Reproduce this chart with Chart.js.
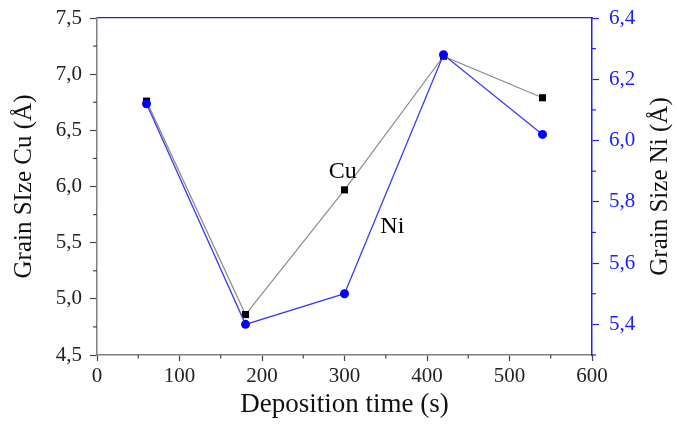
<!DOCTYPE html>
<html>
<head>
<meta charset="utf-8">
<script src="https://cdn.jsdelivr.net/npm/chart.js@4.4.1/dist/chart.umd.min.js"></script>
<style>
  html, body { margin: 0; padding: 0; background: #fff; }
  #wrap { width: 677px; height: 430px; }
</style>
</head>
<body>
<div id="wrap"><canvas id="grainChart"></canvas></div>
<script>
// deposition time (s)
const times = [60, 180, 300, 420, 540];
// grain size Cu (Å) - left axis
const grainCu = [6.76, 4.86, 5.97, 7.16, 6.79];
// grain size Ni (Å) - right axis
const grainNi = [6.12, 5.40, 5.50, 6.28, 6.02];

// tick labels
const xTicks = [0, 100, 200, 300, 400, 500, 600];
const cuTicks = [4.5, 5.0, 5.5, 6.0, 6.5, 7.0, 7.5];
const niTicks = [5.4, 5.6, 5.8, 6.0, 6.2, 6.4];

const serif = '"Liberation Serif", "Times New Roman", serif';
const grey = '#808080';
const blue = '#2020ff';

const comma = v => v.toFixed(1).replace('.', ',');

// fixed axis box size, and no extra room for half labels at the ends
const fixWidth = w => s => { s.width = w; s.paddingTop = 0; s.paddingBottom = 0; };

// small unlabelled ticks between the big ones
const minorTicks = {
  id: 'minorTicks',
  afterDraw(chart) {
    const ctx = chart.ctx;
    const {x, y, y1} = chart.scales;
    ctx.save();
    ctx.lineWidth = 1.2;

    ctx.strokeStyle = '#444';
    for (let v = 50; v < 600; v += 100) {
      const px = x.getPixelForValue(v);
      ctx.beginPath();
      ctx.moveTo(px, x.top);
      ctx.lineTo(px, x.top + 3.5);
      ctx.stroke();
    }
    for (let v = 4.75; v < 7.5; v += 0.5) {
      const py = y.getPixelForValue(v);
      ctx.beginPath();
      ctx.moveTo(y.right, py);
      ctx.lineTo(y.right - 4, py);
      ctx.stroke();
    }
    ctx.strokeStyle = blue;
    for (let v = 5.3; v < 6.4; v += 0.2) {
      const py = y1.getPixelForValue(v);
      ctx.beginPath();
      ctx.moveTo(y1.left, py);
      ctx.lineTo(y1.left + 4, py);
      ctx.stroke();
    }
    ctx.restore();
  }
};

// "Cu" / "Ni" labels next to the curves, and the right axis title
// (which reads bottom-to-top like the left one)
const extraText = {
  id: 'extraText',
  afterDatasetsDraw(chart) {
    const ctx = chart.ctx;
    const {x, y, y1} = chart.scales;
    ctx.save();
    ctx.font = '24px ' + serif;
    ctx.fillStyle = '#000';
    ctx.textAlign = 'center';
    ctx.textBaseline = 'middle';
    ctx.fillText('Cu', x.getPixelForValue(298), y.getPixelForValue(6.13));
    ctx.fillText('Ni', x.getPixelForValue(358), y1.getPixelForValue(5.72));

    ctx.font = '25px ' + serif;
    ctx.fillStyle = '#111';
    ctx.translate(y1.right - 17, (y1.top + y1.bottom) / 2);
    ctx.rotate(-Math.PI / 2);
    ctx.fillText('Grain Size Ni (Å)', 0, 0);
    ctx.restore();
  }
};

new Chart(document.getElementById('grainChart'), {
  type: 'line',
  data: {
    datasets: [
      {
        label: 'Cu',
        data: times.map((t, i) => ({x: t, y: grainCu[i]})),
        yAxisID: 'y',
        borderColor: '#8c8c8c',
        borderWidth: 1.2,
        pointStyle: 'rect',
        pointRadius: 5,
        pointBackgroundColor: '#000',
        pointBorderWidth: 0,
        order: 2
      },
      {
        label: 'Ni',
        data: times.map((t, i) => ({x: t, y: grainNi[i]})),
        yAxisID: 'y1',
        borderColor: '#3a3aff',
        borderWidth: 1.3,
        pointStyle: 'circle',
        pointRadius: 4.5,
        pointBackgroundColor: '#0000ff',
        pointBorderWidth: 0,
        order: 1
      }
    ]
  },
  options: {
    responsive: true,
    maintainAspectRatio: false,
    animation: false,
    layout: { padding: 0 },
    plugins: {
      legend: { display: false },
      tooltip: { enabled: false }
    },
    scales: {
      x: {
        type: 'linear',
        position: 'bottom',
        min: 0,
        max: 600,
        afterBuildTicks: s => { s.ticks = xTicks.map(v => ({value: v})); },
        afterFit: s => { s.height = 75; },
        ticks: { font: { family: serif, size: 21 }, color: '#222', padding: 3, maxRotation: 0 },
        grid: { drawOnChartArea: false, tickLength: 6, color: '#444', tickWidth: 1.2 },
        border: { color: grey, width: 1.5 },
        title: {
          display: true,
          text: 'Deposition time (s)',
          font: { family: serif, size: 27 },
          color: '#111',
          padding: { top: 0, bottom: 9 }
        }
      },
      xTop: {
        type: 'linear',
        position: 'top',
        afterFit: s => { s.height = 18; },
        ticks: { display: false },
        grid: { drawOnChartArea: false, drawTicks: false },
        border: { color: blue, width: 1.2 }
      },
      y: {
        type: 'linear',
        position: 'left',
        min: 4.5,
        max: 7.5,
        afterBuildTicks: s => { s.ticks = cuTicks.map(v => ({value: v})); },
        afterFit: fixWidth(97),
        ticks: { font: { family: serif, size: 21 }, color: '#222', padding: 8, callback: v => comma(v) },
        grid: { drawOnChartArea: false, tickLength: 7, color: '#444', tickWidth: 1.2 },
        border: { color: grey, width: 1.5 },
        title: {
          display: true,
          text: 'Grain SIze Cu (Å)',
          font: { family: serif, size: 25 },
          color: '#111',
          padding: { top: 9, bottom: 0 }
        }
      },
      y1: {
        type: 'linear',
        position: 'right',
        min: 5.3,
        max: 6.4,
        afterBuildTicks: s => { s.ticks = niTicks.map(v => ({value: v})); },
        afterFit: fixWidth(85),
        ticks: { font: { family: serif, size: 21 }, color: blue, padding: 10, callback: v => comma(v) },
        grid: { drawOnChartArea: false, tickLength: 7, color: blue, tickWidth: 1.2 },
        border: { color: blue, width: 1.5 }
      }
    }
  },
  plugins: [minorTicks, extraText]
});
</script>
</body>
</html>
